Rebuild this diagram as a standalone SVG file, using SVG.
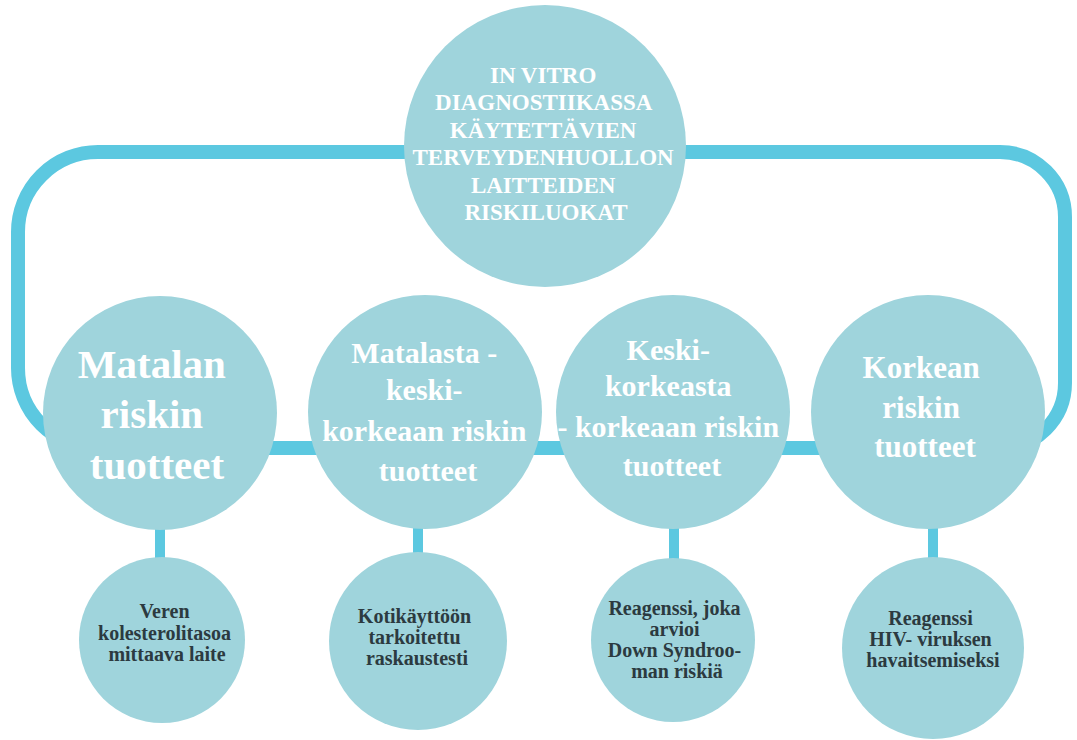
<svg xmlns="http://www.w3.org/2000/svg" width="1077" height="740" viewBox="0 0 1077 740">
  <style>
    .link { fill: none; stroke: #5cc8e0; }
    .node { fill: #9fd4dc; }
    .t { font-family: 'Liberation Serif', 'Times New Roman', 'DejaVu Serif', Georgia, serif; font-weight: 700; text-anchor: middle; }
    .light { fill: #ffffff; }
    .dark { fill: #2c3a40; }
  </style>
  <rect width="1077" height="740" fill="#ffffff"/>

  <!-- connectors: frame loop and drop lines -->
  <g id="connectors">
    <path class="link" stroke-width="14" d="M 98 152 H 1000 A 65 65 0 0 1 1065 217 V 383 A 65 65 0 0 1 1000 448 H 98 A 80 80 0 0 1 18 368 V 232 A 80 80 0 0 1 98 152 Z"/>
    <line class="link" stroke-width="10" x1="160" y1="520" x2="160" y2="565"/>
    <line class="link" stroke-width="10" x1="418" y1="520" x2="418" y2="560"/>
    <line class="link" stroke-width="10" x1="674" y1="520" x2="674" y2="565"/>
    <line class="link" stroke-width="10" x1="933" y1="520" x2="933" y2="565"/>
  </g>

  <!-- root -->
  <g id="root">
    <circle class="node" cx="545" cy="146" r="141"/>
    <text class="t light" font-size="23">
      <tspan x="546" y="83">IN VITRO</tspan>
      <tspan x="546" y="110">DIAGNOSTIIKASSA</tspan>
      <tspan x="546" y="138">KÄYTETTÄVIEN</tspan>
      <tspan x="546" y="165">TERVEYDENHUOLLON</tspan>
      <tspan x="546" y="193">LAITTEIDEN</tspan>
      <tspan x="546" y="220">RISKILUOKAT</tspan>
    </text>
  </g>

  <!-- risk classes -->
  <g id="class-low">
    <circle class="node" cx="160" cy="413" r="117"/>
    <text class="t light" font-size="41">
      <tspan x="157" y="378">Matalan</tspan>
      <tspan x="157" y="428">riskin</tspan>
      <tspan x="157" y="479">tuotteet</tspan>
    </text>
  </g>

  <g id="class-low-mid">
    <circle class="node" cx="425" cy="412" r="117"/>
    <text class="t light" font-size="30">
      <tspan x="428" y="363">Matalasta -</tspan>
      <tspan x="428" y="400">keski-</tspan>
      <tspan x="428" y="441">korkeaan riskin</tspan>
      <tspan x="428" y="481">tuotteet</tspan>
    </text>
  </g>

  <g id="class-mid-high">
    <circle class="node" cx="673" cy="412" r="117"/>
    <text class="t light" font-size="30">
      <tspan x="672" y="360">Keski-</tspan>
      <tspan x="672" y="396">korkeasta</tspan>
      <tspan x="672" y="437">- korkeaan riskin</tspan>
      <tspan x="672" y="476">tuotteet</tspan>
    </text>
  </g>

  <g id="class-high">
    <circle class="node" cx="928" cy="412" r="117"/>
    <text class="t light" font-size="31">
      <tspan x="925" y="378">Korkean</tspan>
      <tspan x="925" y="418">riskin</tspan>
      <tspan x="925" y="457">tuotteet</tspan>
    </text>
  </g>

  <!-- examples -->
  <g id="example-low">
    <circle class="node" cx="162" cy="640" r="83"/>
    <text class="t dark" font-size="20">
      <tspan x="167" y="618">Veren</tspan>
      <tspan x="167" y="640">kolesterolitasoa</tspan>
      <tspan x="167" y="661">mittaava laite</tspan>
    </text>
  </g>

  <g id="example-low-mid">
    <circle class="node" cx="418" cy="641" r="89"/>
    <text class="t dark" font-size="20">
      <tspan x="417" y="623">Kotikäyttöön</tspan>
      <tspan x="417" y="644">tarkoitettu</tspan>
      <tspan x="417" y="665">raskaustesti</tspan>
    </text>
  </g>

  <g id="example-mid-high">
    <circle class="node" cx="673" cy="640" r="82"/>
    <text class="t dark" font-size="20">
      <tspan x="677" y="615">Reagenssi, joka</tspan>
      <tspan x="677" y="636">arvioi</tspan>
      <tspan x="677" y="657">Down Syndroo-</tspan>
      <tspan x="677" y="678">man riskiä</tspan>
    </text>
  </g>

  <g id="example-high">
    <circle class="node" cx="933" cy="648" r="91"/>
    <text class="t dark" font-size="20">
      <tspan x="933" y="625">Reagenssi</tspan>
      <tspan x="933" y="646">HIV- viruksen</tspan>
      <tspan x="933" y="667">havaitsemiseksi</tspan>
    </text>
  </g>
</svg>
